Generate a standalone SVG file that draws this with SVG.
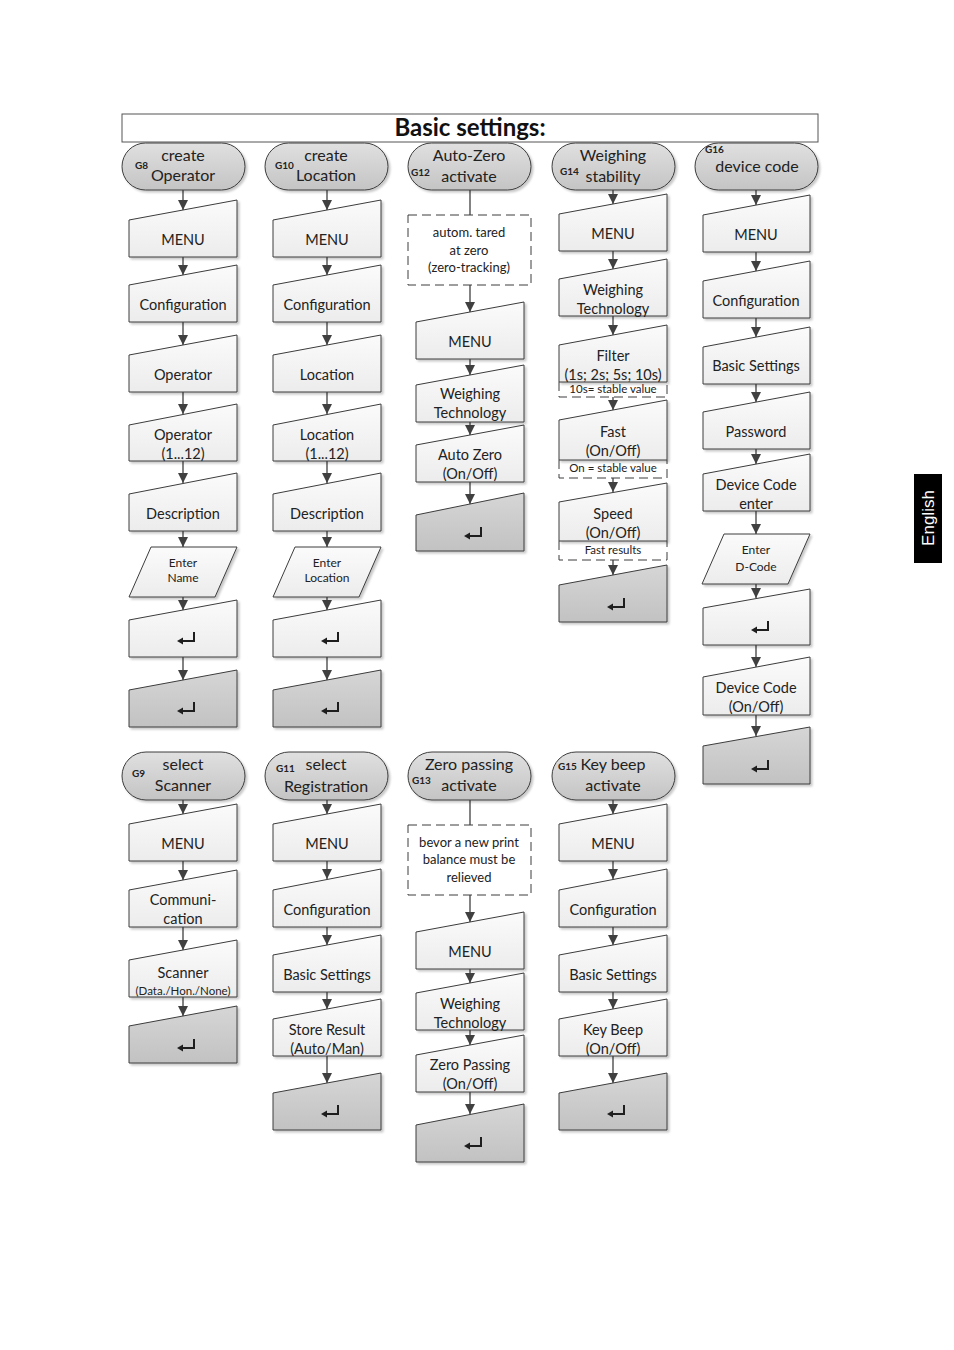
<svg xmlns="http://www.w3.org/2000/svg" xmlns:xlink="http://www.w3.org/1999/xlink" width="954" height="1350" viewBox="0 0 954 1350">
<style>
.wb{fill:url(#gw);stroke:#3c3c3c;stroke-width:1;filter:url(#sh)}
.gb{fill:url(#gg);stroke:#3c3c3c;stroke-width:1;filter:url(#sh)}
.term{fill:url(#gt);stroke:#3c3c3c;stroke-width:1;filter:url(#sh)}
.note{fill:#fff;stroke:#3c3c3c;stroke-width:1;stroke-dasharray:9,5}
.t{font-family:Lato,"Liberation Sans",sans-serif;font-size:14.5px;fill:#222;text-anchor:middle}
.tt{font-family:Lato,"Liberation Sans",sans-serif;font-size:16px;fill:#222;text-anchor:middle}
.tn{font-family:Lato,"Liberation Sans",sans-serif;font-size:13px;fill:#222;text-anchor:middle}
.ts{font-family:Lato,"Liberation Sans",sans-serif;font-size:11.5px;fill:#222;text-anchor:middle}
.tp{font-family:Lato,"Liberation Sans",sans-serif;font-size:12px;fill:#222;text-anchor:middle}
.g{font-family:Lato,"Liberation Sans",sans-serif;font-size:10px;font-weight:bold;fill:#222}
.c{stroke:#404040;stroke-width:1.3;fill:none}
.ca{stroke:#404040;stroke-width:1.3;fill:none;marker-end:url(#ah)}
</style>
<defs>
<linearGradient id="gw" x1="0" y1="0" x2="0" y2="1"><stop offset="0" stop-color="#fbfbfb"/><stop offset="1" stop-color="#ececec"/></linearGradient>
<linearGradient id="gg" x1="0" y1="0" x2="0" y2="1"><stop offset="0" stop-color="#d6d6d6"/><stop offset="1" stop-color="#c2c2c2"/></linearGradient>
<linearGradient id="gt" x1="0" y1="0" x2="0" y2="1"><stop offset="0" stop-color="#e0e0e0"/><stop offset="1" stop-color="#c4c4c4"/></linearGradient>
<filter id="sh" x="-10%" y="-10%" width="130%" height="130%"><feDropShadow dx="2" dy="2" stdDeviation="1.2" flood-color="#000" flood-opacity="0.22"/></filter>
<marker id="ah" markerWidth="10" markerHeight="10" refX="10" refY="5" orient="auto" markerUnits="userSpaceOnUse"><path d="M0,0 L10,5 L0,10 Z" fill="#404040"/></marker>
<g id="ent"><path d="M-4,4 H8 V-5" fill="none" stroke="#1e1e1e" stroke-width="2"/><path d="M-9,4 L-3,0.5 L-3,7.5 Z" fill="#1e1e1e"/></g>
</defs>
<rect width="954" height="1350" fill="#fff"/>

<g id="title">
<rect x="122" y="114" width="696" height="28" fill="#fff" stroke="#555" stroke-width="1"/>
<text x="470" y="136" font-family="Lato,'Liberation Sans',sans-serif" font-size="24" font-weight="bold" fill="#111" text-anchor="middle">Basic settings:</text>
</g>

<g id="english-tab">
<rect x="914" y="474" width="28" height="89" fill="#000"/>
<text transform="translate(934,518) rotate(-90)" font-family="'Liberation Sans',sans-serif" font-size="17" fill="#fff" text-anchor="middle">English</text>
</g>

<!-- connectors -->
<g id="connectors">
<line class="ca" x1="183" y1="190" x2="183" y2="210"/>
<line class="ca" x1="183" y1="257" x2="183" y2="275"/>
<line class="ca" x1="183" y1="322" x2="183" y2="345"/>
<line class="ca" x1="183" y1="392" x2="183" y2="414"/>
<line class="ca" x1="183" y1="461" x2="183" y2="483"/>
<line class="ca" x1="183" y1="531" x2="183" y2="547"/>
<line class="ca" x1="183" y1="597" x2="183" y2="610"/>
<line class="ca" x1="183" y1="657" x2="183" y2="680"/>
<line class="ca" x1="327" y1="190" x2="327" y2="210"/>
<line class="ca" x1="327" y1="257" x2="327" y2="275"/>
<line class="ca" x1="327" y1="322" x2="327" y2="345"/>
<line class="ca" x1="327" y1="392" x2="327" y2="414"/>
<line class="ca" x1="327" y1="461" x2="327" y2="483"/>
<line class="ca" x1="327" y1="531" x2="327" y2="547"/>
<line class="ca" x1="327" y1="597" x2="327" y2="610"/>
<line class="ca" x1="327" y1="657" x2="327" y2="680"/>
<line class="c" x1="470" y1="190" x2="470" y2="215"/>
<line class="ca" x1="470" y1="285" x2="470" y2="312"/>
<line class="ca" x1="470" y1="359" x2="470" y2="375"/>
<line class="ca" x1="470" y1="422" x2="470" y2="435"/>
<line class="ca" x1="470" y1="482" x2="470" y2="504"/>
<line class="ca" x1="613" y1="190" x2="613" y2="204"/>
<line class="ca" x1="613" y1="251" x2="613" y2="269"/>
<line class="ca" x1="613" y1="316" x2="613" y2="335"/>
<line class="ca" x1="613" y1="397" x2="613" y2="410"/>
<line class="ca" x1="613" y1="478" x2="613" y2="492"/>
<line class="ca" x1="613" y1="560" x2="613" y2="575"/>
<line class="ca" x1="756" y1="190" x2="756" y2="205"/>
<line class="ca" x1="756" y1="252" x2="756" y2="271"/>
<line class="ca" x1="756" y1="318" x2="756" y2="337"/>
<line class="ca" x1="756" y1="384" x2="756" y2="402"/>
<line class="ca" x1="756" y1="449" x2="756" y2="464"/>
<line class="ca" x1="756" y1="511" x2="756" y2="534"/>
<line class="ca" x1="756" y1="584" x2="756" y2="598"/>
<line class="ca" x1="756" y1="645" x2="756" y2="667"/>
<line class="ca" x1="756" y1="715" x2="756" y2="736"/>
<line class="ca" x1="183" y1="800" x2="183" y2="814"/>
<line class="ca" x1="183" y1="861" x2="183" y2="880"/>
<line class="ca" x1="183" y1="927" x2="183" y2="950"/>
<line class="ca" x1="183" y1="997" x2="183" y2="1016"/>
<line class="ca" x1="327" y1="800" x2="327" y2="814"/>
<line class="ca" x1="327" y1="861" x2="327" y2="879"/>
<line class="ca" x1="327" y1="927" x2="327" y2="945"/>
<line class="ca" x1="327" y1="992" x2="327" y2="1009"/>
<line class="ca" x1="327" y1="1056" x2="327" y2="1083"/>
<line class="c" x1="470" y1="800" x2="470" y2="825"/>
<line class="ca" x1="470" y1="895" x2="470" y2="922"/>
<line class="ca" x1="470" y1="969" x2="470" y2="983"/>
<line class="ca" x1="470" y1="1030" x2="470" y2="1045"/>
<line class="ca" x1="470" y1="1092" x2="470" y2="1114"/>
<line class="ca" x1="613" y1="800" x2="613" y2="814"/>
<line class="ca" x1="613" y1="861" x2="613" y2="879"/>
<line class="ca" x1="613" y1="927" x2="613" y2="945"/>
<line class="ca" x1="613" y1="992" x2="613" y2="1009"/>
<line class="ca" x1="613" y1="1056" x2="613" y2="1083"/>
</g>

<!-- ===== Column 1 (G8) ===== -->
<g id="g8-start"><rect class="term" x="122" y="143" width="123" height="47" rx="23.5"/><text class="g" x="135" y="169">G8</text><text class="tt" x="183" y="161">create</text><text class="tt" x="183" y="181">Operator</text></g>
<g id="g8-menu"><path class="wb" d="M129,220 L237,200 L237,257 L129,257 Z"/><text class="t" x="183" y="245">MENU</text></g>
<g id="g8-config"><path class="wb" d="M129,285 L237,265 L237,322 L129,322 Z"/><text class="t" x="183" y="310">Configuration</text></g>
<g id="g8-operator"><path class="wb" d="M129,355 L237,335 L237,392 L129,392 Z"/><text class="t" x="183" y="380">Operator</text></g>
<g id="g8-operator-n"><path class="wb" d="M129,425 L237,404 L237,461 L129,461 Z"/><text class="t" x="183" y="440">Operator</text><text class="t" x="183" y="459">(1...12)</text></g>
<g id="g8-desc"><path class="wb" d="M129,494 L237,473 L237,531 L129,531 Z"/><text class="t" x="183" y="519">Description</text></g>
<g id="g8-enter"><path class="wb" d="M151,547 L237,547 L215,597 L129,597 Z"/><text class="tp" x="183" y="567">Enter</text><text class="tp" x="183" y="582">Name</text></g>
<g id="g8-ret1"><path class="wb" d="M129,620 L237,600 L237,657 L129,657 Z"/><use xlink:href="#ent" x="186" y="637"/></g>
<g id="g8-ret2"><path class="gb" d="M129,690 L237,670 L237,727 L129,727 Z"/><use xlink:href="#ent" x="186" y="707"/></g>

<!-- ===== Column 2 (G10) ===== -->
<g id="g10-start"><rect class="term" x="265" y="143" width="123" height="47" rx="23.5"/><text class="g" x="275" y="169">G10</text><text class="tt" x="326" y="161">create</text><text class="tt" x="326" y="181">Location</text></g>
<g id="g10-menu"><path class="wb" d="M273,220 L381,200 L381,257 L273,257 Z"/><text class="t" x="327" y="245">MENU</text></g>
<g id="g10-config"><path class="wb" d="M273,285 L381,265 L381,322 L273,322 Z"/><text class="t" x="327" y="310">Configuration</text></g>
<g id="g10-location"><path class="wb" d="M273,355 L381,335 L381,392 L273,392 Z"/><text class="t" x="327" y="380">Location</text></g>
<g id="g10-location-n"><path class="wb" d="M273,425 L381,404 L381,461 L273,461 Z"/><text class="t" x="327" y="440">Location</text><text class="t" x="327" y="459">(1...12)</text></g>
<g id="g10-desc"><path class="wb" d="M273,494 L381,473 L381,531 L273,531 Z"/><text class="t" x="327" y="519">Description</text></g>
<g id="g10-enter"><path class="wb" d="M295,547 L381,547 L359,597 L273,597 Z"/><text class="tp" x="327" y="567">Enter</text><text class="tp" x="327" y="582">Location</text></g>
<g id="g10-ret1"><path class="wb" d="M273,620 L381,600 L381,657 L273,657 Z"/><use xlink:href="#ent" x="330" y="637"/></g>
<g id="g10-ret2"><path class="gb" d="M273,690 L381,670 L381,727 L273,727 Z"/><use xlink:href="#ent" x="330" y="707"/></g>

<!-- ===== Column 3 (G12) ===== -->
<g id="g12-start"><rect class="term" x="408" y="143" width="123" height="47" rx="23.5"/><text class="g" x="411" y="176">G12</text><text class="tt" x="469" y="161">Auto-Zero</text><text class="tt" x="469" y="182">activate</text></g>
<g id="g12-note"><rect class="note" x="408" y="215" width="123" height="70"/><text class="tn" x="469" y="237">autom. tared</text><text class="tn" x="469" y="255">at zero</text><text class="tn" x="469" y="272">(zero-tracking)</text></g>
<g id="g12-menu"><path class="wb" d="M416,322 L524,302 L524,359 L416,359 Z"/><text class="t" x="470" y="347">MENU</text></g>
<g id="g12-wt"><path class="wb" d="M416,385 L524,365 L524,422 L416,422 Z"/><text class="t" x="470" y="399">Weighing</text><text class="t" x="470" y="418">Technology</text></g>
<g id="g12-az"><path class="wb" d="M416,445 L524,425 L524,482 L416,482 Z"/><text class="t" x="470" y="460">Auto Zero</text><text class="t" x="470" y="479">(On/Off)</text></g>
<g id="g12-ret"><path class="gb" d="M416,515 L524,493 L524,551 L416,551 Z"/><use xlink:href="#ent" x="473" y="532"/></g>

<!-- ===== Column 4 (G14) ===== -->
<g id="g14-start"><rect class="term" x="552" y="143" width="123" height="47" rx="23.5"/><text class="g" x="560" y="175">G14</text><text class="tt" x="613" y="161">Weighing</text><text class="tt" x="613" y="182">stability</text></g>
<g id="g14-menu"><path class="wb" d="M559,214 L667,194 L667,251 L559,251 Z"/><text class="t" x="613" y="239">MENU</text></g>
<g id="g14-wt"><path class="wb" d="M559,279 L667,259 L667,316 L559,316 Z"/><text class="t" x="613" y="295">Weighing</text><text class="t" x="613" y="314">Technology</text></g>
<g id="g14-filter"><path d="M559,382 V397 H667 V382" class="note"/><path class="wb" d="M559,345 L667,325 L667,382 L559,382 Z"/><text class="t" x="613" y="361">Filter</text><text class="t" x="613" y="380">(1s; 2s; 5s; 10s)</text><text class="ts" x="613" y="393">10s= stable value</text></g>
<g id="g14-fast"><path d="M559,460 V478 H667 V460" class="note"/><path class="wb" d="M559,420 L667,400 L667,460 L559,460 Z"/><text class="t" x="613" y="437">Fast</text><text class="t" x="613" y="456">(On/Off)</text><text class="ts" x="613" y="472">On = stable value</text></g>
<g id="g14-speed"><path d="M559,541 V560 H667 V541" class="note"/><path class="wb" d="M559,502 L667,483 L667,541 L559,541 Z"/><text class="t" x="613" y="519">Speed</text><text class="t" x="613" y="538">(On/Off)</text><text class="ts" x="613" y="554">Fast results</text></g>
<g id="g14-ret"><path class="gb" d="M559,585 L667,565 L667,622 L559,622 Z"/><use xlink:href="#ent" x="616" y="603"/></g>

<!-- ===== Column 5 (G16) ===== -->
<g id="g16-start"><rect class="term" x="695" y="143" width="123" height="47" rx="23.5"/><text class="g" x="705" y="153">G16</text><text class="tt" x="757" y="172">device code</text></g>
<g id="g16-menu"><path class="wb" d="M703,215 L810,195 L810,252 L703,252 Z"/><text class="t" x="756" y="240">MENU</text></g>
<g id="g16-config"><path class="wb" d="M703,281 L810,261 L810,318 L703,318 Z"/><text class="t" x="756" y="306">Configuration</text></g>
<g id="g16-basic"><path class="wb" d="M703,347 L810,327 L810,384 L703,384 Z"/><text class="t" x="756" y="371">Basic Settings</text></g>
<g id="g16-password"><path class="wb" d="M703,412 L810,392 L810,449 L703,449 Z"/><text class="t" x="756" y="437">Password</text></g>
<g id="g16-dce"><path class="wb" d="M703,474 L810,454 L810,511 L703,511 Z"/><text class="t" x="756" y="490">Device Code</text><text class="t" x="756" y="509">enter</text></g>
<g id="g16-enter"><path class="wb" d="M724,534 L810,534 L788,584 L702,584 Z"/><text class="tp" x="756" y="554">Enter</text><text class="tp" x="756" y="571">D-Code</text></g>
<g id="g16-ret1"><path class="wb" d="M703,608 L810,589 L810,645 L703,645 Z"/><use xlink:href="#ent" x="760" y="626"/></g>
<g id="g16-dco"><path class="wb" d="M703,677 L810,657 L810,715 L703,715 Z"/><text class="t" x="756" y="693">Device Code</text><text class="t" x="756" y="712">(On/Off)</text></g>
<g id="g16-ret2"><path class="gb" d="M703,746 L810,727 L810,784 L703,784 Z"/><use xlink:href="#ent" x="760" y="765"/></g>

<!-- ===== Bottom Column 1 (G9) ===== -->
<g id="g9-start"><rect class="term" x="122" y="752" width="123" height="48" rx="24"/><text class="g" x="132" y="777">G9</text><text class="tt" x="183" y="770">select</text><text class="tt" x="183" y="791">Scanner</text></g>
<g id="g9-menu"><path class="wb" d="M129,824 L237,804 L237,861 L129,861 Z"/><text class="t" x="183" y="849">MENU</text></g>
<g id="g9-comm"><path class="wb" d="M129,890 L237,870 L237,927 L129,927 Z"/><text class="t" x="183" y="905">Communi-</text><text class="t" x="183" y="924">cation</text></g>
<g id="g9-scanner"><path class="wb" d="M129,960 L237,940 L237,997 L129,997 Z"/><text class="t" x="183" y="978">Scanner</text><text class="ts" x="183" y="995">(Data./Hon./None)</text></g>
<g id="g9-ret"><path class="gb" d="M129,1026 L237,1006 L237,1063 L129,1063 Z"/><use xlink:href="#ent" x="186" y="1044"/></g>

<!-- ===== Bottom Column 2 (G11) ===== -->
<g id="g11-start"><rect class="term" x="265" y="752" width="123" height="48" rx="24"/><text class="g" x="276" y="772">G11</text><text class="tt" x="326" y="770">select</text><text class="tt" x="326" y="792">Registration</text></g>
<g id="g11-menu"><path class="wb" d="M273,824 L381,804 L381,861 L273,861 Z"/><text class="t" x="327" y="849">MENU</text></g>
<g id="g11-config"><path class="wb" d="M273,890 L381,869 L381,927 L273,927 Z"/><text class="t" x="327" y="915">Configuration</text></g>
<g id="g11-basic"><path class="wb" d="M273,955 L381,935 L381,992 L273,992 Z"/><text class="t" x="327" y="980">Basic Settings</text></g>
<g id="g11-store"><path class="wb" d="M273,1019 L381,999 L381,1056 L273,1056 Z"/><text class="t" x="327" y="1035">Store Result</text><text class="t" x="327" y="1054">(Auto/Man)</text></g>
<g id="g11-ret"><path class="gb" d="M273,1093 L381,1073 L381,1130 L273,1130 Z"/><use xlink:href="#ent" x="330" y="1110"/></g>

<!-- ===== Bottom Column 3 (G13) ===== -->
<g id="g13-start"><rect class="term" x="408" y="752" width="123" height="48" rx="24"/><text class="g" x="412" y="784">G13</text><text class="tt" x="469" y="770">Zero passing</text><text class="tt" x="469" y="791">activate</text></g>
<g id="g13-note"><rect class="note" x="408" y="825" width="123" height="70"/><text class="tn" x="469" y="847">bevor a new print</text><text class="tn" x="469" y="864">balance must be</text><text class="tn" x="469" y="882">relieved</text></g>
<g id="g13-menu"><path class="wb" d="M416,932 L524,912 L524,969 L416,969 Z"/><text class="t" x="470" y="957">MENU</text></g>
<g id="g13-wt"><path class="wb" d="M416,993 L524,973 L524,1030 L416,1030 Z"/><text class="t" x="470" y="1009">Weighing</text><text class="t" x="470" y="1028">Technology</text></g>
<g id="g13-zp"><path class="wb" d="M416,1055 L524,1035 L524,1092 L416,1092 Z"/><text class="t" x="470" y="1070">Zero Passing</text><text class="t" x="470" y="1089">(On/Off)</text></g>
<g id="g13-ret"><path class="gb" d="M416,1125 L524,1104 L524,1162 L416,1162 Z"/><use xlink:href="#ent" x="473" y="1142"/></g>

<!-- ===== Bottom Column 4 (G15) ===== -->
<g id="g15-start"><rect class="term" x="552" y="752" width="123" height="48" rx="24"/><text class="g" x="558" y="770">G15</text><text class="tt" x="613" y="770">Key beep</text><text class="tt" x="613" y="791">activate</text></g>
<g id="g15-menu"><path class="wb" d="M559,824 L667,804 L667,861 L559,861 Z"/><text class="t" x="613" y="849">MENU</text></g>
<g id="g15-config"><path class="wb" d="M559,890 L667,869 L667,927 L559,927 Z"/><text class="t" x="613" y="915">Configuration</text></g>
<g id="g15-basic"><path class="wb" d="M559,955 L667,935 L667,992 L559,992 Z"/><text class="t" x="613" y="980">Basic Settings</text></g>
<g id="g15-kb"><path class="wb" d="M559,1019 L667,999 L667,1056 L559,1056 Z"/><text class="t" x="613" y="1035">Key Beep</text><text class="t" x="613" y="1054">(On/Off)</text></g>
<g id="g15-ret"><path class="gb" d="M559,1093 L667,1073 L667,1130 L559,1130 Z"/><use xlink:href="#ent" x="616" y="1110"/></g>
</svg>
